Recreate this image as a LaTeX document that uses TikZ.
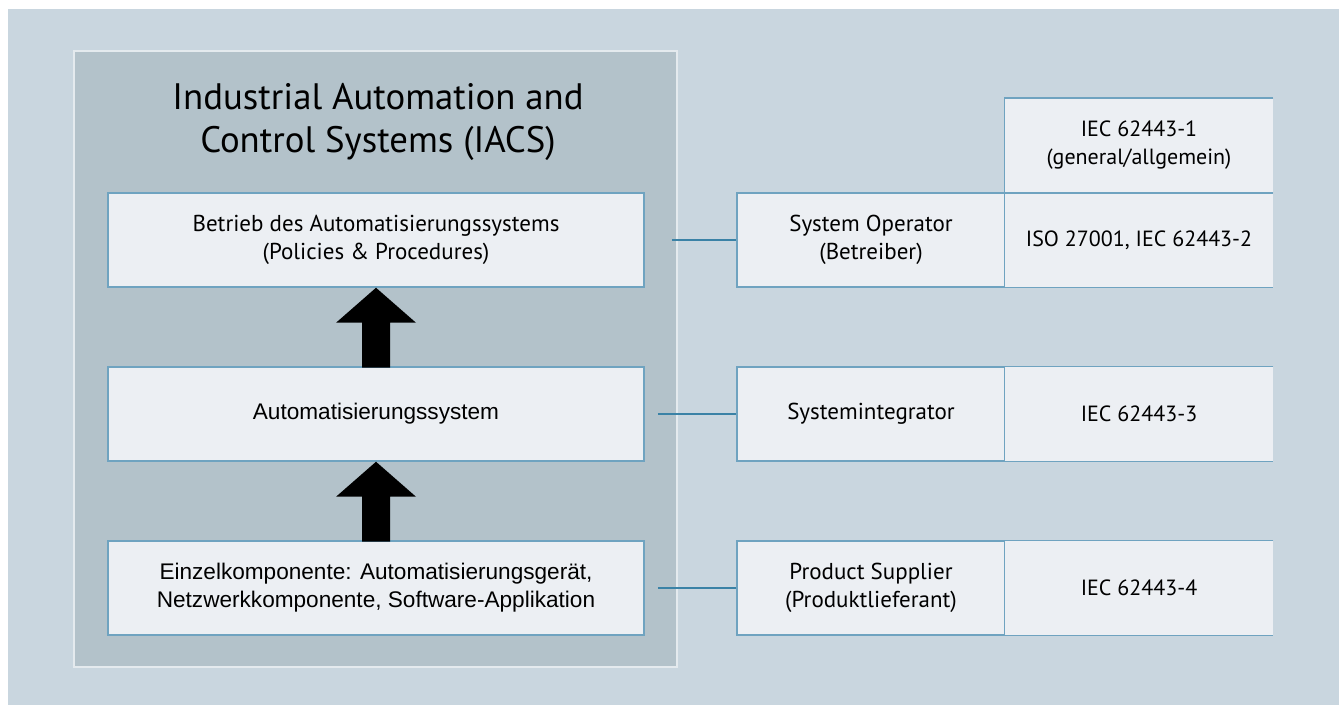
\documentclass[tikz,border=0pt]{standalone}
\usepackage{fontspec}
\setmainfont{PT Sans}
\newfontfamily\arialfont{Liberation Sans}
\usetikzlibrary{calc}

\definecolor{pagebg}{RGB}{201,214,223}
\definecolor{panel}{RGB}{179,194,202}
\definecolor{panelrim}{RGB}{228,234,238}
\definecolor{boxfill}{RGB}{236,239,243}
\definecolor{boxline}{RGB}{111,163,192}
\definecolor{linkblue}{RGB}{58,130,166}

\tikzset{
  layer/.style={draw=boxline, line width=0.75pt, fill=boxfill, minimum width=268pt,
    minimum height=47pt, inner sep=0pt, align=center, font=\fontsize{11.5}{14}\selectfont},
  arialtext/.style={font=\arialfont\fontsize{11.3}{14}\selectfont},
  role/.style={layer, minimum width=134pt},
  norm/.style={fill=boxfill, minimum width=134pt, minimum height=47pt, inner sep=0pt,
    align=center, font=\fontsize{11}{14}\selectfont},
  cellrule/.style={draw=boxline, line width=0.75pt},
  link/.style={draw=linkblue, line width=0.9pt},
}

\begin{document}
\begin{tikzpicture}[x=0.5pt,y=0.5pt,yscale=-1]
\useasboundingbox (0,0) rectangle (1339,705);
\fill[white] (0,0) rectangle (1339,705);
\fill[pagebg] (8,9) rectangle (1339,705);

% IACS panel with its three layers
\draw[panelrim, line width=1pt, fill=panel] (74,51) rectangle (677,667);
\node (title) at (378,122) [font=\fontsize{18.4}{21.5}\selectfont, align=center]
  {Industrial Automation and\\Control Systems (IACS)};

\node[layer] (ops) at (376,240) {Betrieb des Automatisierungssystems\\(Policies \& Procedures)};
\node[layer, arialtext] (sys) at (376,414) {Automatisierungssystem};
\node[layer, arialtext] (part) at (376,588)
  {Einzelkomponente: Automatisierungsgerät,\\Netzwerkkomponente, Software-Applikation};

% block arrows between the layers
\foreach \hi in {ops, sys}
  \fill (\hi.south) -- ++(40,35) -- ++(-26,0) -- ++(0,45) -- ++(-28,0) -- ++(0,-45) -- ++(-26,0) -- cycle;

% roles
\node[role] (opsrole) at (871,240) {System Operator\\(Betreiber)};
\node[role] (sysrole) at (871,414) {Systemintegrator};
\node[role] (partrole) at (871,588) {Product Supplier\\(Produktlieferant)};

% standards, open on the right
\node[norm] (gennorm) at (1139,145.5) {IEC 62443-1\\(general/allgemein)};
\node[norm] (opsnorm) at (1139,240) {ISO 27001, IEC 62443-2};
\node[norm] (sysnorm) at (1139,414) {IEC 62443-3};
\node[norm] (partnorm) at (1139,588) {IEC 62443-4};
\foreach \c in {gennorm, opsnorm, sysnorm, partnorm}
  \draw[cellrule] (\c.north east) -- (\c.north west) -- (\c.south west) -- (\c.south east);

% links from layers to roles
\coordinate (opsjoin) at ($(ops.east)+(27,0)$);
\coordinate (sysjoin) at ($(sys.east)+(13,0)$);
\coordinate (partjoin) at ($(part.east)+(13,0)$);
\draw[link] (opsjoin) -- (opsrole.west);
\draw[link] (sysjoin) -- (sysrole.west);
\draw[link] (partjoin) -- (partrole.west);
\end{tikzpicture}
\end{document}
